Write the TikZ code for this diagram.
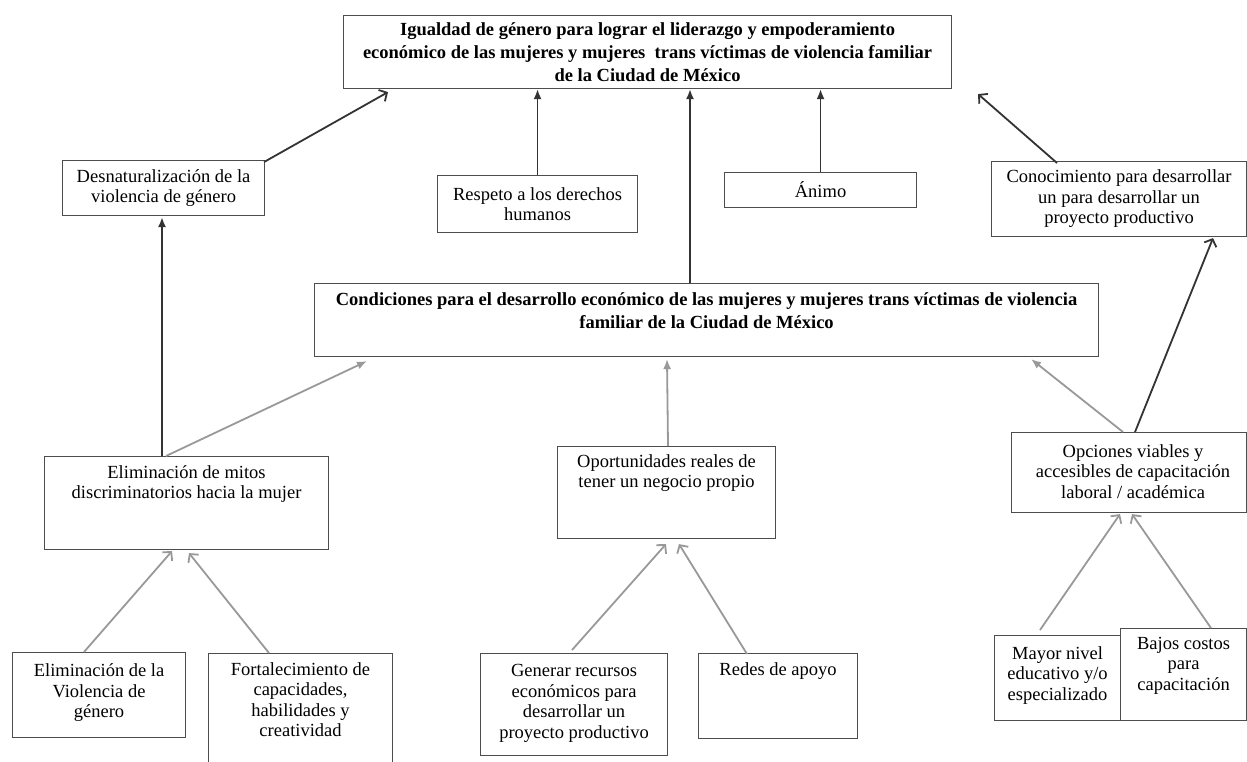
\documentclass[tikz,border=0pt]{standalone}
\usepackage{fontspec}
\setmainfont{Liberation Serif}
\usetikzlibrary{arrows.meta,calc}
\definecolor{boxc}{HTML}{4D4D4D}
\definecolor{darkc}{HTML}{333333}
\definecolor{grayc}{HTML}{999999}
\begin{document}
\begin{tikzpicture}[x=1pt,y=-1pt,
  box/.style={draw=boxc, line width=1.1pt, inner sep=0pt, anchor=north west, fill=white},
  txt/.style={inner sep=0pt, align=center, font=\fontsize{18.5}{20.5}\selectfont, text=black},
  btxt/.style={inner sep=0pt, align=center, font=\fontsize{18.5}{23}\selectfont\bfseries, text=black},
  dk/.style={draw=darkc, line width=1.8pt},
  gr/.style={draw=grayc, line width=1.8pt},
  filltip/.style={-{Latex[length=10pt,width=8pt]}},
  opentip/.style={-{Straight Barb[length=6pt,width=13pt]}},
]
\fill[white] (0,0) rectangle (1247,762);
\clip (0,0) rectangle (1247,762);

% boxes
\node[box, minimum width=608pt, minimum height=73pt] (top) at (343,15) {};
\node[box, minimum width=202pt, minimum height=55pt] (desnat) at (62,160) {};
\node[box, minimum width=200pt, minimum height=57pt] (respeto) at (437,175) {};
\node[box, minimum width=192pt, minimum height=35pt] (animo) at (724,172) {};
\node[box, minimum width=255pt, minimum height=75pt] (conoc) at (991,161) {};
\node[box, minimum width=784pt, minimum height=73pt] (cond) at (314,283) {};
\node[box, minimum width=284pt, minimum height=93pt] (mitos) at (44,456) {};
\node[box, minimum width=218pt, minimum height=92pt] (oport) at (557,446) {};
\node[box, minimum width=235pt, minimum height=80pt] (opc) at (1011,432) {};
\node[box, minimum width=173pt, minimum height=85pt] (elimv) at (12,652) {};
\node[box, minimum width=184pt, minimum height=130pt] (fort) at (208,653) {};
\node[box, minimum width=187pt, minimum height=102pt] (generar) at (480,653) {};
\node[box, minimum width=159pt, minimum height=85pt] (redes) at (698,653) {};
\node[box, minimum width=126pt, minimum height=85pt] (mayor) at (994,635) {};
\node[box, minimum width=126pt, minimum height=92pt] (bajos) at (1120,628) {};

% texts
\node[btxt] (top-t) at (top.center) {Igualdad de género para lograr el liderazgo y empoderamiento\\económico de las mujeres y mujeres\ \ trans víctimas de violencia familiar\\de la Ciudad de México};
\node[txt] (desnat-t) at (desnat.center) {Desnaturalización de la\\violencia de género};
\node[txt] (respeto-t) at (respeto.center) {Respeto a los derechos\\humanos};
\node[txt] (animo-t) at (animo.center) {Ánimo};
\node[txt] (conoc-t) at (conoc.center) {Conocimiento para desarrollar\\un para desarrollar un\\proyecto productivo};
\node[btxt, anchor=north] (cond-t) at ($(cond.north)+(0,9)$) {Condiciones para el desarrollo económico de las mujeres y mujeres trans víctimas de violencia\\familiar de la Ciudad de México};
\node[txt, anchor=north] (mitos-t) at ($(mitos.north)+(0,9)$) {Eliminación de mitos\\discriminatorios hacia la mujer};
\node[txt, anchor=north] (oport-t) at ($(oport.north)+(0,8)$) {Oportunidades reales de\\tener un negocio propio};
\node[txt] (opc-t) at ($(opc.center)+(4,-1)$) {Opciones viables y\\accesibles de capacitación\\laboral / académica};
\node[txt] (elimv-t) at ($(elimv.center)+(0,-2)$) {Eliminación de la\\Violencia de\\género};
\node[txt, anchor=north] (fort-t) at ($(fort.north)+(0,9)$) {Fortalecimiento de\\capacidades,\\habilidades y\\creatividad};
\node[txt] (generar-t) at ($(generar.center)+(0,-1)$) {Generar recursos\\económicos para\\desarrollar un\\proyecto productivo};
\node[txt, anchor=north] (redes-t) at ($(redes.north)+(0,9)$) {Redes de apoyo};
\node[txt] (mayor-t) at ($(mayor.center)+(0,-3)$) {Mayor nivel\\educativo y/o\\especializado};
\node[txt, anchor=north] (bajos-t) at ($(bajos.north)+(0,9)$) {Bajos costos\\para\\capacitación};

% dark connectors
\draw[dk, opentip] ($(desnat.north east)+(-1,2)$) -- ($(top.south west)+(45,3)$);
\draw[dk, filltip] (respeto.north) -- (respeto.north |- top.south);
\draw[dk, filltip] ($(cond.north west)+(376,0)$) -- ($(top.south west)+(347,0)$);
\draw[dk, filltip] (animo.north) -- (animo.north |- top.south);
\draw[dk, opentip] ($(conoc.north west)+(66,2)$) -- ($(top.south east)+(26,5)$);
\draw[dk, filltip] ($(mitos.north west)+(118,0)$) -- ($(desnat.south west)+(100,1)$);
\draw[dk, opentip] ($(opc.north west)+(124,0)$) -- ($(conoc.south west)+(222,1)$);

% gray connectors
\draw[gr, filltip] ($(mitos.north west)+(122,0)$) -- ($(cond.south west)+(53,4)$);
\draw[gr, filltip] ($(oport.north west)+(111,0)$) -- ($(cond.south west)+(353,2)$);
\draw[gr, filltip] ($(opc.north west)+(112,0)$) -- ($(cond.south east)+(-68,2)$);
\draw[gr, opentip] ($(elimv.north west)+(72,0)$) -- ($(mitos.south west)+(128,1)$);
\draw[gr, opentip] ($(fort.north west)+(61,0)$) -- ($(mitos.south west)+(145,3)$);
\draw[gr, opentip] ($(generar.north west)+(92,-3)$) -- ($(oport.south west)+(109,5)$);
\draw[gr, opentip] ($(redes.north west)+(49,1)$) -- ($(oport.south west)+(122,5)$);
\draw[gr, opentip] ($(mayor.north west)+(46,-5)$) -- ($(opc.south west)+(109,1)$);
\draw[gr, opentip] ($(bajos.north west)+(91,0)$) -- ($(opc.south west)+(121,1)$);
\end{tikzpicture}
\end{document}
